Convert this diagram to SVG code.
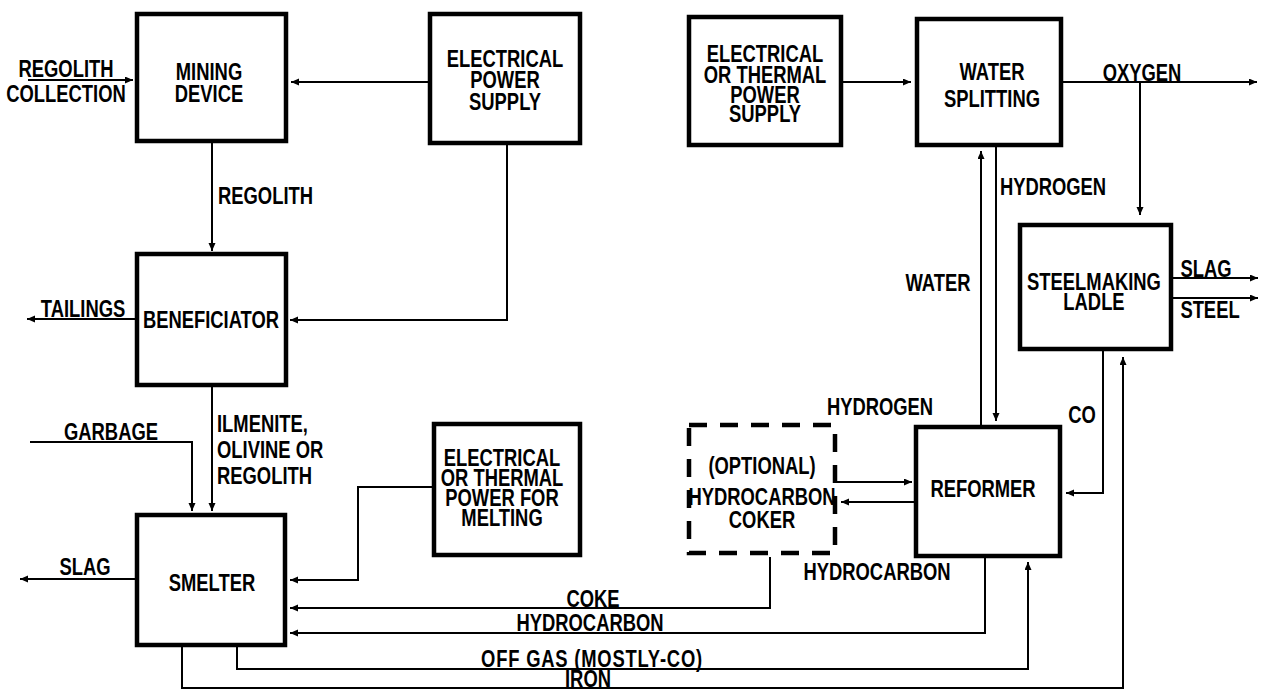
<svg xmlns="http://www.w3.org/2000/svg" width="1263" height="690" viewBox="0 0 1263 690">
<defs>
<marker id="ah" markerUnits="userSpaceOnUse" markerWidth="9" markerHeight="8" refX="8" refY="3.5" orient="auto">
<path d="M0,0 L8,3.5 L0,7 z" fill="#000"/>
</marker>
<style>
.box{fill:#fff;stroke:#000;stroke-width:4.5}
.dash{fill:#fff;stroke:#000;stroke-width:4.5;stroke-dasharray:18 13}
.c{fill:none;stroke:#000;stroke-width:2;marker-end:url(#ah)}
text{font-family:"Liberation Sans",Arial,sans-serif;font-weight:bold;font-size:23px;fill:#000}
.m{text-anchor:middle}
</style>
</defs>
<rect width="1263" height="690" fill="#fff"/>
<g id="connectors">
<path class="c" d="M28 80 H133"/>
<path class="c" d="M428 82 H291"/>
<path class="c" d="M212 142 V251"/>
<path class="c" d="M507 145 V320 H290"/>
<path class="c" d="M135 319 H27"/>
<path class="c" d="M212 387 V511"/>
<path class="c" d="M30 442 H192 V511"/>
<path class="c" d="M135 579 H20"/>
<path class="c" d="M432 487 H358 V580 H290"/>
<path class="c" d="M770 557 V608 H290"/>
<path class="c" d="M985 558 V633 H290"/>
<path class="c" d="M237 647 V669 H1028 V562"/>
<path class="c" d="M182 647 V688 H1123 V357"/>
<path class="c" d="M1103 351 V493 H1066"/>
<path class="c" d="M837 482 H912"/>
<path class="c" d="M914 502 H841"/>
<path class="c" d="M981 425 V151"/>
<path class="c" d="M996 147 V421"/>
<path class="c" d="M1063 82 H1257"/>
<path class="c" d="M1140 82 V215"/>
<path class="c" d="M843 82 H911"/>
<path class="c" d="M1173 278 H1258"/>
<path class="c" d="M1173 298 H1258"/>
</g>
<g id="mining">
<rect class="box" x="137" y="14" width="149" height="127"/>
<text class="m" transform="translate(209 80) scale(0.8 1)">MINING</text>
<text class="m" transform="translate(209 102) scale(0.8 1)">DEVICE</text>
</g>
<g id="eps">
<rect class="box" x="430" y="14" width="150" height="129"/>
<text class="m" transform="translate(505 67) scale(0.8 1)">ELECTRICAL</text>
<text class="m" transform="translate(505 88) scale(0.8 1)">POWER</text>
<text class="m" transform="translate(505 110) scale(0.8 1)">SUPPLY</text>
</g>
<g id="etps">
<rect class="box" x="689" y="17" width="152" height="128"/>
<text class="m" transform="translate(765 62) scale(0.8 1)">ELECTRICAL</text>
<text class="m" transform="translate(765 83) scale(0.8 1)">OR THERMAL</text>
<text class="m" transform="translate(765 103) scale(0.8 1)">POWER</text>
<text class="m" transform="translate(765 122) scale(0.8 1)">SUPPLY</text>
</g>
<g id="water-splitting">
<rect class="box" x="917" y="19" width="144" height="126"/>
<text class="m" transform="translate(992 80) scale(0.8 1)">WATER</text>
<text class="m" transform="translate(992 107) scale(0.8 1)">SPLITTING</text>
</g>
<g id="steelmaking">
<rect class="box" x="1020" y="225" width="151" height="124"/>
<text class="m" transform="translate(1094 290) scale(0.8 1)">STEELMAKING</text>
<text class="m" transform="translate(1094 310) scale(0.8 1)">LADLE</text>
</g>
<g id="beneficiator">
<rect class="box" x="137" y="254" width="149" height="131"/>
<text class="m" transform="translate(211 328) scale(0.8 1)">BENEFICIATOR</text>
</g>
<g id="smelter">
<rect class="box" x="137" y="515" width="148" height="130"/>
<text class="m" transform="translate(212 591) scale(0.8 1)">SMELTER</text>
</g>
<g id="melting">
<rect class="box" x="434" y="424" width="146" height="131"/>
<text class="m" transform="translate(502 466) scale(0.8 1)">ELECTRICAL</text>
<text class="m" transform="translate(502 486) scale(0.8 1)">OR THERMAL</text>
<text class="m" transform="translate(502 506) scale(0.8 1)">POWER FOR</text>
<text class="m" transform="translate(502 526) scale(0.8 1)">MELTING</text>
</g>
<g id="coker">
<rect class="dash" x="689" y="425" width="146" height="128"/>
<text class="m" transform="translate(762 474) scale(0.8 1)">(OPTIONAL)</text>
<text class="m" transform="translate(762 505) scale(0.8 1)">HYDROCARBON</text>
<text class="m" transform="translate(762 528) scale(0.8 1)">COKER</text>
</g>
<g id="reformer">
<rect class="box" x="916" y="427" width="144" height="129"/>
<text class="m" transform="translate(983 497) scale(0.8 1)">REFORMER</text>
</g>
<g id="labels">
<text class="m" transform="translate(66 77) scale(0.8 1)">REGOLITH</text>
<text class="m" transform="translate(66 102) scale(0.8 1)">COLLECTION</text>
<text transform="translate(218 204) scale(0.8 1)">REGOLITH</text>
<text class="m" transform="translate(83 317) scale(0.8 1)">TAILINGS</text>
<text transform="translate(217 432) scale(0.8 1)">ILMENITE,</text>
<text transform="translate(217 458) scale(0.8 1)">OLIVINE OR</text>
<text transform="translate(217 484) scale(0.8 1)">REGOLITH</text>
<text class="m" transform="translate(111 440) scale(0.8 1)">GARBAGE</text>
<text class="m" transform="translate(85 575) scale(0.8 1)">SLAG</text>
<text class="m" transform="translate(593 607) scale(0.8 1)">COKE</text>
<text class="m" transform="translate(590 631) scale(0.8 1)">HYDROCARBON</text>
<text class="m" transform="translate(592 667) scale(0.8 1)" letter-spacing="1">OFF GAS (MOSTLY-CO)</text>
<text class="m" transform="translate(588 687) scale(0.8 1)">IRON</text>
<text class="m" transform="translate(877 580) scale(0.8 1)">HYDROCARBON</text>
<text class="m" transform="translate(880 415) scale(0.8 1)">HYDROGEN</text>
<text class="m" transform="translate(1082 423) scale(0.8 1)">CO</text>
<text class="m" transform="translate(938 291) scale(0.8 1)">WATER</text>
<text class="m" transform="translate(1053 195) scale(0.8 1)">HYDROGEN</text>
<text class="m" transform="translate(1142 81) scale(0.8 1)">OXYGEN</text>
<text class="m" transform="translate(1206 277) scale(0.8 1)">SLAG</text>
<text class="m" transform="translate(1210 318) scale(0.8 1)">STEEL</text>
</g>
</svg>
